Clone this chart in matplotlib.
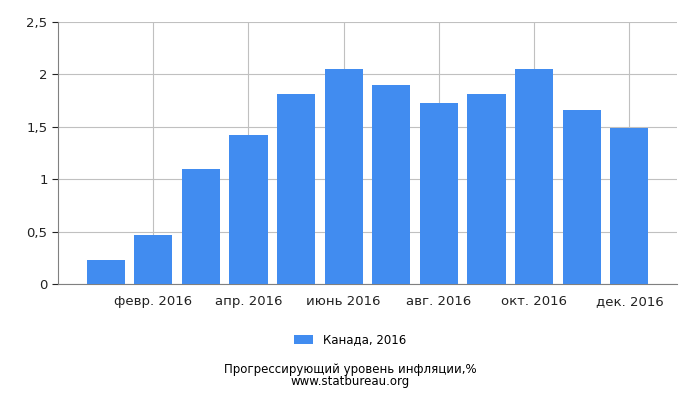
import matplotlib
matplotlib.use("Agg")
import matplotlib.pyplot as plt

months = ["янв. 2016","февр. 2016","март 2016","апр. 2016","май 2016","июнь 2016",
          "июль 2016","авг. 2016","сент. 2016","окт. 2016","нояб. 2016","дек. 2016"]
values = [0.23, 0.47, 1.10, 1.42, 1.81, 2.05, 1.90, 1.73, 1.81, 2.05, 1.66, 1.49]
yticks = [0, 0.5, 1, 1.5, 2, 2.5]
ylabels = ["0", "0,5", "1", "1,5", "2", "2,5"]

fig = plt.figure(figsize=(7, 4), dpi=100)
ax = fig.add_axes([58/700, 1-284/400, 619/700, 262/400])
x = list(range(len(values)))
ax.bar(x, values, width=0.8, color="#418cf0", label="Канада, 2016", zorder=3)
ax.set_xlim(-1, 12)
ax.set_ylim(0, 2.5)
ax.set_yticks(yticks)
ax.set_yticklabels(ylabels)
ax.set_xticks(x[1::2])
ax.set_xticklabels(months[1::2])
ax.grid(True, color="#c0c0c0", linewidth=0.8, zorder=0)
for s in ["top", "right"]:
    ax.spines[s].set_visible(False)
ax.spines["left"].set_color("#808080")
ax.spines["bottom"].set_color("#808080")
ax.tick_params(labelsize=9.5, colors="#222222", length=4)
ax.tick_params(axis="x", length=0, pad=8)
fig.legend(loc="center", bbox_to_anchor=(0.5, 1-340/400), frameon=False, fontsize=8.5,
           handlelength=1.6, handleheight=0.8)
fig.text(0.5, 1-370/400, "Прогрессирующий уровень инфляции,%", ha="center", va="center", fontsize=8.5)
fig.text(0.5, 1-382/400, "www.statbureau.org", ha="center", va="center", fontsize=8.5)
fig.savefig("out.png")
